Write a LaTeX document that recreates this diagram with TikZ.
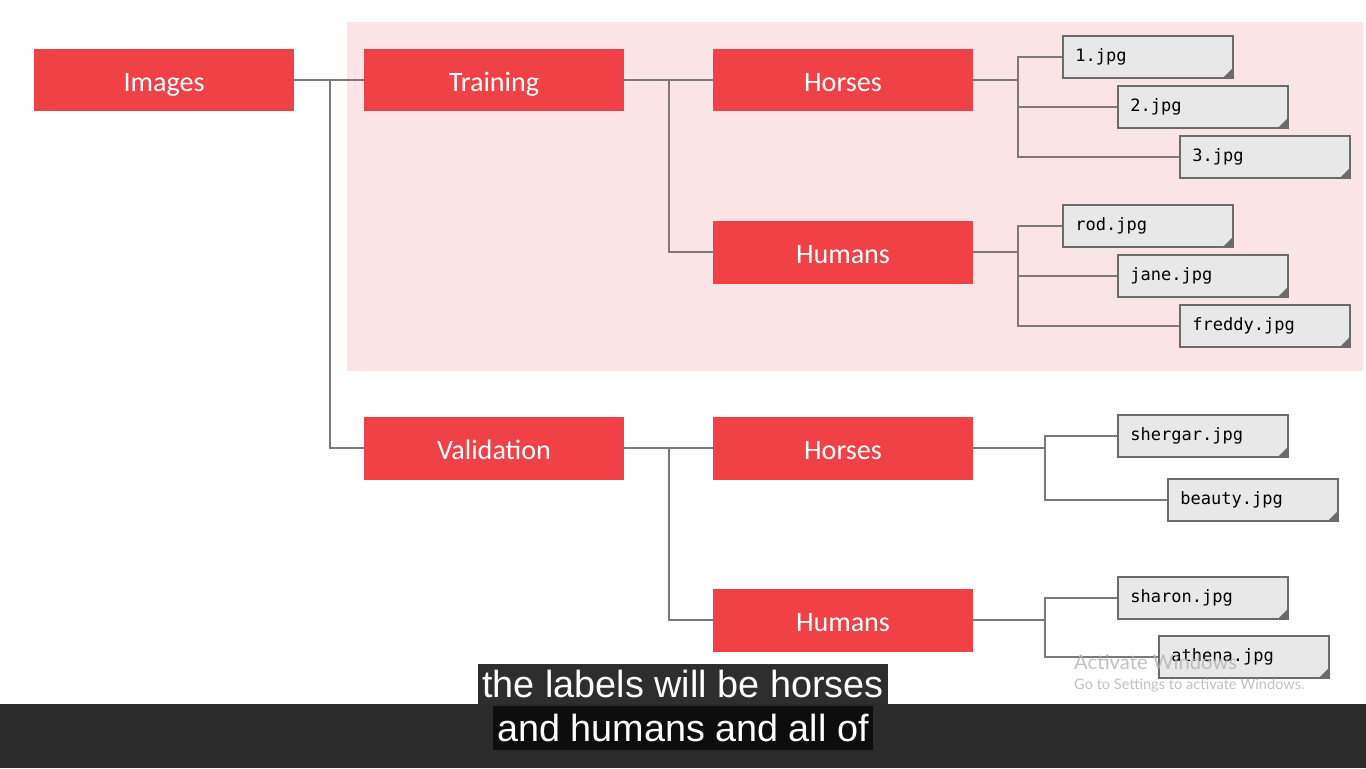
\documentclass[tikz,border=0pt]{standalone}
\usepackage{fontspec}
\setmainfont{Carlito}
\setmonofont{DejaVu Sans Mono}
\newfontfamily\subfont{Liberation Sans}
\newfontfamily\winfont{Lato}
\definecolor{boxred}{HTML}{F04147}
\definecolor{trainbg}{HTML}{FBE4E5}
\definecolor{wire}{HTML}{7A7A7A}
\definecolor{filebg}{HTML}{E8E8E8}
\definecolor{fileedge}{HTML}{6B6B6B}
\definecolor{barbg}{HTML}{2B2B2B}
\tikzset{
  folder/.style={fill=boxred, text=white, minimum width=5.2cm, minimum height=1.26cm,
    text height=14pt, text depth=1pt, font=\fontsize{16}{18}\selectfont},
  file/.style={draw=fileedge, line width=1pt, fill=filebg, anchor=west,
    text width=2.9cm, inner xsep=0.25cm, minimum height=0.84cm, align=left,
    font=\ttfamily\fontsize{9.7}{12}\selectfont,
    path picture={\fill[fileedge] (path picture bounding box.south east)
      -- ++(-0.2cm,0cm) -- ++(0.2cm,0.2cm) -- cycle;}},
  wires/.style={draw=wire, line width=1.1pt},
  caption/.style={text=white, font=\subfont\fontsize{21.5}{24}\selectfont, inner sep=1pt}
}
\begin{document}
\begin{tikzpicture}[x=0.02cm, y=-0.02cm]
\useasboundingbox[fill=white] (0,0) rectangle (1366,768);
\fill[trainbg] (347,22) rectangle (1363,371);

\node[folder] (img) at (164,80) {Images};
\node[folder] (trn) at (494,80) {Training};
\node[folder] (val) at (494,448) {Validation};
\node[folder] (trnh) at (843,80) {Horses};
\node[folder] (trnm) at (843,252) {Humans};
\node[folder] (valh) at (843,448) {Horses};
\node[folder] (valm) at (843,620) {Humans};

\foreach \nm/\x/\y/\t in {a1/1062/57/1.jpg, a2/1117/107/2.jpg, a3/1179/157/3.jpg,
  b1/1062/226/rod.jpg, b2/1117/276/jane.jpg, b3/1179/326/freddy.jpg,
  c1/1117/436/shergar.jpg, c2/1167/500/beauty.jpg,
  d1/1117/598/sharon.jpg, d2/1158/657/athena.jpg}
  \node[file] (\nm) at (\x,\y) {\t};

\coordinate (s0) at (330,80);
\coordinate (s1) at (669,80);
\coordinate (s2) at (669,448);
\coordinate (ta) at (1018,80);
\coordinate (tb) at (1018,252);
\coordinate (tc) at (1045,448);
\coordinate (td) at (1045,620);

\draw[wires] (img) -- (trn);
\draw[wires] (s0) |- (val);
\draw[wires] (trn) -- (trnh);
\draw[wires] (s1) |- (trnm);
\draw[wires] (val) -- (valh);
\draw[wires] (s2) |- (valm);
\draw[wires] (trnh.east) -- (ta);
\draw[wires] (trnm.east) -- (tb);
\draw[wires] (valh.east) -- (tc);
\draw[wires] (valm.east) -- (td);
\foreach \j/\f in {ta/a1, ta/a2, ta/a3, tb/b1, tb/b2, tb/b3, tc/c1, tc/c2, td/d1, td/d2}
  \draw[wires] (\j) |- (\f.west);

\node[anchor=west, text=black!30, opacity=0.8, font=\winfont\fontsize{11.5}{13}\selectfont]
  (act) at (1068,662) {Activate Windows};
\node[anchor=west, text=black!30, opacity=0.8, font=\winfont\fontsize{8.3}{10}\selectfont]
  (go) at (1068,685) {Go to Settings to activate Windows.};

\fill[barbg] (0,704) rectangle (1366,768);
\node[caption, fill=black!82, minimum width=8.2cm, minimum height=0.8cm] (cap1) at (683,684)
  {the labels will be horses};
\node[caption, fill=black!95, minimum width=7.6cm, minimum height=0.88cm] (cap2) at (683,728)
  {and humans and all of};
\end{tikzpicture}
\end{document}
